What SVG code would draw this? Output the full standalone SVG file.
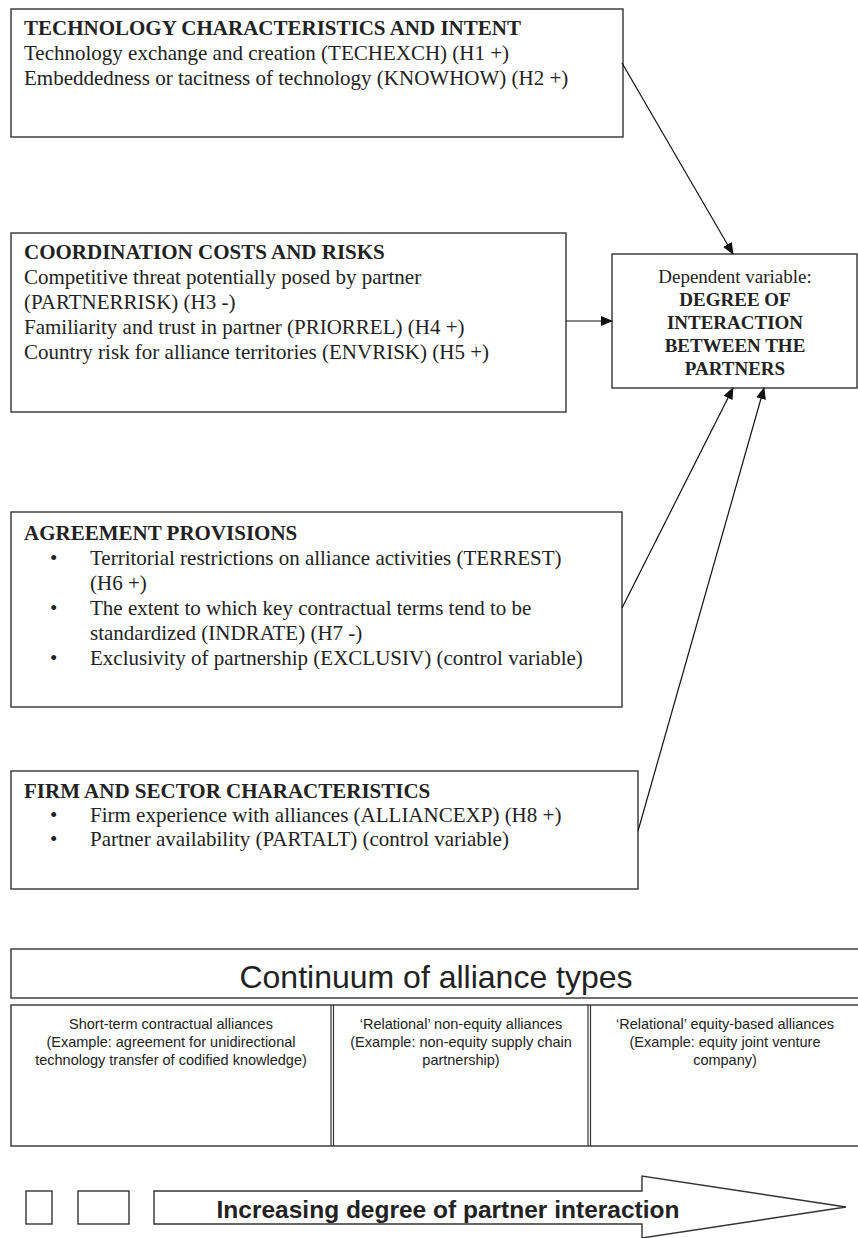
<svg xmlns="http://www.w3.org/2000/svg" width="858" height="1238" viewBox="0 0 858 1238">
<style>
.box{fill:#fff;stroke:#333;stroke-width:1.4}
.t{font-family:"Liberation Serif","Times New Roman",serif;font-size:21px;fill:#222}
.b{font-weight:bold}
.d{font-family:"Liberation Serif","Times New Roman",serif;font-size:19px;fill:#222;text-anchor:middle}
.a{font-family:"Liberation Sans",Arial,sans-serif;fill:#222;text-anchor:middle}
.c{font-size:14.5px}
.conn{stroke:#111;stroke-width:1.2;fill:none;marker-end:url(#ah)}
.ln{stroke:#333;stroke-width:1.2;fill:none}
</style>
<defs>
<marker id="ah" markerWidth="12" markerHeight="10" refX="11" refY="5" orient="auto" markerUnits="userSpaceOnUse">
<path d="M0,0 L12,5 L0,10 z" fill="#111"/>
</marker>
</defs>
<rect width="858" height="1238" fill="#fff"/>

<g id="tech">
<rect class="box" x="11" y="9" width="612" height="128"/>
<text class="t b" x="24" y="35">TECHNOLOGY CHARACTERISTICS AND INTENT</text>
<text class="t" x="24" y="60">Technology exchange and creation (TECHEXCH) (H1 +)</text>
<text class="t" x="24" y="85">Embeddedness or tacitness of technology (KNOWHOW) (H2 +)</text>
</g>

<g id="coord">
<rect class="box" x="11" y="233" width="555" height="179"/>
<text class="t b" x="24" y="259">COORDINATION COSTS AND RISKS</text>
<text class="t" x="24" y="284">Competitive threat potentially posed by partner</text>
<text class="t" x="24" y="309">(PARTNERRISK) (H3 -)</text>
<text class="t" x="24" y="334">Familiarity and trust in partner (PRIORREL) (H4 +)</text>
<text class="t" x="24" y="359">Country risk for alliance territories (ENVRISK) (H5 +)</text>
</g>

<g id="dependent">
<rect class="box" x="612" y="254" width="245" height="134"/>
<text class="d" x="735" y="283">Dependent variable:</text>
<text class="d b" x="735" y="306">DEGREE OF</text>
<text class="d b" x="735" y="329">INTERACTION</text>
<text class="d b" x="735" y="352">BETWEEN THE</text>
<text class="d b" x="735" y="375">PARTNERS</text>
</g>

<g id="agreement">
<rect class="box" x="11" y="512" width="611" height="195"/>
<text class="t b" x="24" y="540">AGREEMENT PROVISIONS</text>
<text class="t" x="50" y="565">•</text>
<text class="t" x="90" y="565">Territorial restrictions on alliance activities (TERREST)</text>
<text class="t" x="90" y="590">(H6 +)</text>
<text class="t" x="50" y="615">•</text>
<text class="t" x="90" y="615">The extent to which key contractual terms tend to be</text>
<text class="t" x="90" y="640">standardized (INDRATE) (H7 -)</text>
<text class="t" x="50" y="665">•</text>
<text class="t" x="90" y="665">Exclusivity of partnership (EXCLUSIV) (control variable)</text>
</g>

<g id="firm">
<rect class="box" x="11" y="771" width="627" height="118"/>
<text class="t b" x="24" y="798">FIRM AND SECTOR CHARACTERISTICS</text>
<text class="t" x="50" y="822">•</text>
<text class="t" x="90" y="822">Firm experience with alliances (ALLIANCEXP) (H8 +)</text>
<text class="t" x="50" y="846">•</text>
<text class="t" x="90" y="846">Partner availability (PARTALT) (control variable)</text>
</g>

<g id="connectors">
<line class="conn" x1="622" y1="63" x2="733" y2="254"/>
<line class="conn" x1="566" y1="321" x2="612" y2="321"/>
<line class="conn" x1="622" y1="608" x2="733" y2="388"/>
<line class="conn" x1="638" y1="831" x2="764" y2="388"/>
</g>

<g id="continuum">
<rect class="box" x="11" y="949" width="860" height="49"/>
<text class="a" x="436" y="988" font-size="32">Continuum of alliance types</text>
</g>

<g id="cell1">
<rect class="box" x="11" y="1005" width="860" height="141"/>
<text class="a c" x="171" y="1029">Short-term contractual alliances</text>
<text class="a c" x="171" y="1047">(Example: agreement for unidirectional</text>
<text class="a c" x="171" y="1065">technology transfer of codified knowledge)</text>
</g>
<g id="cell2">
<line class="ln" x1="331" y1="1005" x2="331" y2="1146"/>
<line class="ln" x1="333.5" y1="1005" x2="333.5" y2="1146"/>
<text class="a c" x="461" y="1029">‘Relational’ non-equity alliances</text>
<text class="a c" x="461" y="1047">(Example: non-equity supply chain</text>
<text class="a c" x="461" y="1065">partnership)</text>
</g>
<g id="cell3">
<line class="ln" x1="588" y1="1005" x2="588" y2="1146"/>
<line class="ln" x1="590.5" y1="1005" x2="590.5" y2="1146"/>
<text class="a c" x="725" y="1029">‘Relational’ equity-based alliances</text>
<text class="a c" x="725" y="1047">(Example: equity joint venture</text>
<text class="a c" x="725" y="1065">company)</text>
</g>

<g id="legend">
<rect class="box" x="26" y="1191" width="26" height="33"/>
<rect class="box" x="78" y="1191" width="51" height="33"/>
</g>
<g id="increasing">
<polygon class="box" points="154,1191 642,1191 642,1176 846,1207 642,1238 642,1224 154,1224"/>
<text class="a" x="448" y="1218" font-size="24.5" font-weight="bold">Increasing degree of partner interaction</text>
</g>
</svg>
